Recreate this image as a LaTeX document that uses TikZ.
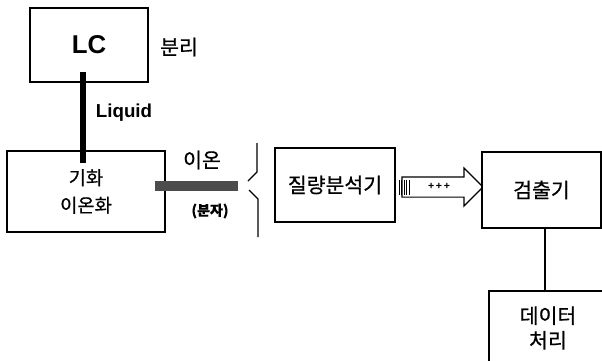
\documentclass[tikz,border=0pt]{standalone}
\usepackage{fontspec}
\setmainfont{Liberation Sans}
\newfontfamily\kr[FakeBold=0.6]{Noto Sans CJK KR}
\usetikzlibrary{shapes.arrows}
\def\pxu{0.03cm}
\tikzset{
  unit/.style={draw, line width=1.7pt, fill=white, inner sep=0pt, align=center},
  krtext/.style={font=\kr\fontsize{17.5}{21}\selectfont},
  feed/.style={line width=5pt},
  brace/.style={line width=1pt},
}
\begin{document}
\begin{tikzpicture}[x=\pxu, y=-\pxu, every node/.style={inner sep=0pt}]
  \clip (0,0) rectangle (602,361);
  % LC column and source
  \node[unit, minimum width=118*\pxu, minimum height=74*\pxu,
        font=\bfseries\fontsize{22}{24}\selectfont] (lc) at (89,45) {LC};
  \node[krtext] (sep) at (179,47) {분리};
  \node[unit, minimum width=158*\pxu, minimum height=81*\pxu,
        font=\kr\fontsize{16}{23.5}\selectfont] (ionsrc) at (86,191.5) {기화\\이온화};
  \coordinate (feedtop) at (83,72);
  \coordinate (feedbot) at (83,163);
  \draw[feed] (feedtop) -- (feedbot);
  \node[font=\bfseries\fontsize{16}{18}\selectfont] (liq) at (124,113) {Liquid};
  % ion beam
  \coordinate (beamstart) at (155,186);
  \coordinate (beamend) at (238,186);
  \draw[line width=8.5pt, gray!60!black] (beamstart) -- (beamend);
  \node[font=\kr\fontsize{17.5}{20}\selectfont] (ion) at (202,160) {이온};
  \node[font=\kr\bfseries\fontsize{12}{14}\selectfont] (mol) at (210,211) {(분자)};
  % brace
  \draw[brace] (257,143) -- (257,172) -- (248,181);
  \draw[brace] (249,190) -- (258,199) -- (258,237);
  % analyser and detector
  \node[unit, line width=2.2pt, minimum width=120*\pxu, minimum height=74*\pxu,
        krtext] (ms) at (335,185) {질량분석기};
  \node[single arrow, draw, line width=1pt, fill=white, minimum height=81*\pxu,
        minimum width=37*\pxu, inner xsep=0pt, inner ysep=9.5*\pxu,
        single arrow head extend=9*\pxu] (flow) at (437.5,187) {};
  \foreach \x in {399,401.5,404,406.5,409} {
    \draw[line width=0.6pt] (\x,180) -- (\x,195);
  }
  \node[font=\bfseries\small] (plus) at (439,186.5) {+\,+\,+};
  \node[unit, minimum width=119*\pxu, minimum height=76*\pxu,
        krtext] (det) at (541.5,190) {검출기};
  \node[unit, minimum width=120*\pxu, minimum height=110*\pxu,
        krtext, anchor=north west] (data) at (488,290) {};
  \node[krtext, align=center] (datatext) at (548,328) {데이터\\처리};
  \coordinate (link) at (545,0);
  \draw[line width=2pt] (det.south -| link) -- (data.north -| link);
\end{tikzpicture}
\end{document}
